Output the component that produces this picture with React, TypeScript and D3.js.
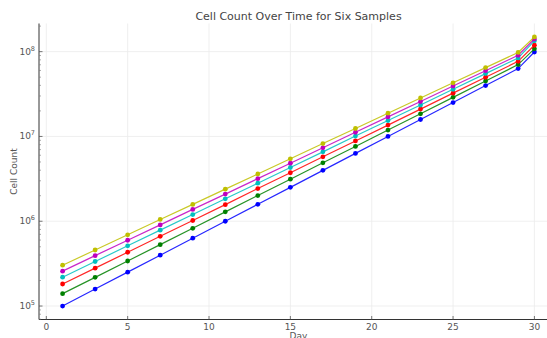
import React from 'react'
import * as d3 from 'd3'

// days sampled
const days = [1, 3, 5, 7, 9, 11, 13, 15, 17, 19, 21, 23, 25, 27, 29, 30]

// cell counts per sample
const sampleA = [1.0e5, 1.585e5, 2.51e5, 3.98e5, 6.31e5, 1.0e6, 1.585e6, 2.51e6, 3.98e6, 6.31e6, 1.0e7, 1.585e7, 2.51e7, 3.98e7, 6.31e7, 9.9e7]
const sampleB = [1.40e5, 2.18e5, 3.40e5, 5.30e5, 8.26e5, 1.29e6, 2.01e6, 3.13e6, 4.89e6, 7.62e6, 1.19e7, 1.85e7, 2.89e7, 4.51e7, 7.03e7, 1.08e8]
const sampleC = [1.82e5, 2.80e5, 4.31e5, 6.64e5, 1.02e6, 1.57e6, 2.43e6, 3.73e6, 5.75e6, 8.85e6, 1.36e7, 2.10e7, 3.24e7, 4.99e7, 7.69e7, 1.19e8]
const sampleD = [2.19e5, 3.35e5, 5.13e5, 7.85e5, 1.20e6, 1.84e6, 2.81e6, 4.30e6, 6.58e6, 1.01e7, 1.54e7, 2.35e7, 3.60e7, 5.51e7, 8.42e7, 1.34e8]
const sampleE = [2.58e5, 3.93e5, 5.97e5, 9.06e5, 1.38e6, 2.09e6, 3.18e6, 4.84e6, 7.35e6, 1.12e7, 1.70e7, 2.58e7, 3.93e7, 5.96e7, 9.06e7, 1.41e8]
const sampleF = [3.03e5, 4.58e5, 6.92e5, 1.05e6, 1.58e6, 2.39e6, 3.61e6, 5.45e6, 8.24e6, 1.24e7, 1.88e7, 2.84e7, 4.29e7, 6.48e7, 9.79e7, 1.49e8]

const seriesColors = ['#0000ff', '#008000', '#ff0000', '#00bfbf', '#bf00bf', '#bfbf00']
const xTicks = [0, 5, 10, 15, 20, 25, 30]
const yExponents = [5, 6, 7, 8]

export default function App() {
  const width = 547, height = 338
  const m = { top: 23.5, left: 39, right: 558, bottom: 319.5 }
  const all = [sampleA, sampleB, sampleC, sampleD, sampleE, sampleF]

  const xMin = d3.min(days)!, xMax = d3.max(days)!
  const xPad = (xMax - xMin) * 0.05
  const x = d3.scaleLinear().domain([xMin - xPad, xMax + xPad]).range([m.left, m.right])

  const lo = Math.log10(d3.min(all.flat())!), hi = Math.log10(d3.max(all.flat())!)
  const yPad = (hi - lo) * 0.05
  const y = d3.scaleLog().domain([10 ** (lo - yPad), 10 ** (hi + yPad)]).range([m.bottom, m.top])

  const minorTicks: number[] = []
  for (let e = 4; e <= 8; e++) for (let k = 2; k <= 9; k++) {
    const v = k * 10 ** e
    if (y(v) <= m.bottom && y(v) >= m.top) minorTicks.push(v)
  }

  const line = d3.line<number>().x((_, i) => x(days[i])).y(d => y(d))
  const font = 'DejaVu Sans, sans-serif'

  return (
    <svg width={width} height={height} style={{ position: 'absolute', left: 0, top: 0 }} fontFamily={font}>
      <rect width={width} height={height} fill="#fff" />
      {xTicks.map(t => (
        <line key={'gx' + t} x1={x(t)} x2={x(t)} y1={m.top} y2={m.bottom} stroke="#ebebeb" strokeWidth={0.8} />
      ))}
      {yExponents.map(e => (
        <line key={'gy' + e} x1={m.left} x2={width} y1={y(10 ** e)} y2={y(10 ** e)} stroke="#ebebeb" strokeWidth={0.8} />
      ))}

      {all.map((s, i) => (
        <g key={i}>
          <path d={line(s)!} fill="none" stroke={seriesColors[i]} strokeWidth={1.2} opacity={0.85} />
          {s.map((v, j) => (
            <circle key={j} cx={x(days[j])} cy={y(v)} r={2.4} fill={seriesColors[i]} />
          ))}
        </g>
      ))}

      {/* spines */}
      <line x1={m.left} x2={m.left} y1={m.top} y2={m.bottom} stroke="#333" strokeWidth={1} />
      <line x1={m.left} x2={width} y1={m.bottom} y2={m.bottom} stroke="#333" strokeWidth={1} />

      {xTicks.map(t => (
        <g key={'xt' + t}>
          <line x1={x(t)} x2={x(t)} y1={m.bottom} y2={m.bottom - 3.5} stroke="#555" strokeWidth={0.8} />
          <text x={x(t)} y={330} textAnchor="middle" fontSize={9} fill="#555">{t}</text>
        </g>
      ))}
      {yExponents.map(e => (
        <g key={'yt' + e}>
          <line x1={m.left} x2={m.left + 3.5} y1={y(10 ** e)} y2={y(10 ** e)} stroke="#555" strokeWidth={0.8} />
          <text x={m.left - 4} y={y(10 ** e) + 3} textAnchor="end" fontSize={9} fill="#555">
            10<tspan fontSize={6.5} dy={-4}>{e}</tspan>
          </text>
        </g>
      ))}
      {minorTicks.map(v => (
        <line key={'mt' + v} x1={m.left} x2={m.left + 2} y1={y(v)} y2={y(v)} stroke="#777" strokeWidth={0.6} />
      ))}

      <text x={(m.left + m.right) / 2} y={339} textAnchor="middle" fontSize={9} fill="#555">Day</text>
      <text transform={`translate(17,${(m.top + m.bottom) / 2}) rotate(-90)`} textAnchor="middle" fontSize={9} fill="#555">Cell Count</text>
      <text x={(m.left + m.right) / 2} y={20} textAnchor="middle" fontSize={11} fill="#444">Cell Count Over Time for Six Samples</text>
    </svg>
  )
}
